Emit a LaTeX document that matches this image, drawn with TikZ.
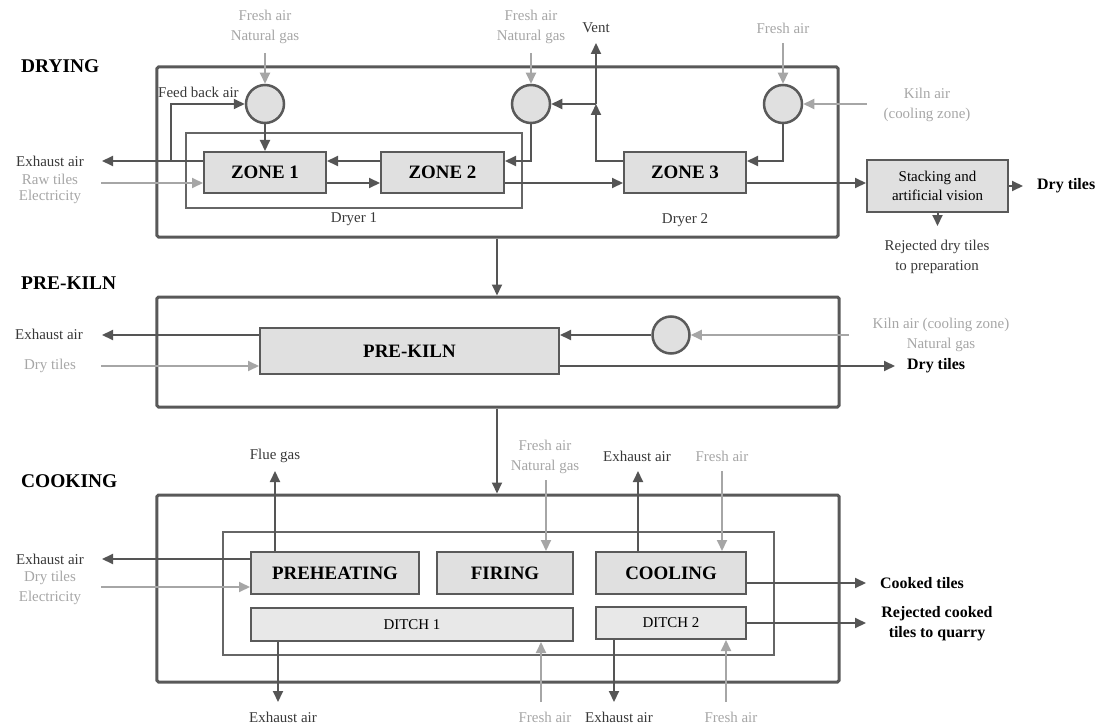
\documentclass[tikz,border=0pt]{standalone}
\usepackage{fontspec}
\setmainfont{Liberation Serif}
\usetikzlibrary{arrows.meta}
\definecolor{framec}{HTML}{595959}
\definecolor{innerc}{HTML}{666666}
\definecolor{boxc}{HTML}{5A5A5A}
\definecolor{zonefill}{HTML}{E0E0E0}
\definecolor{ditchfill}{HTML}{E8E8E8}
\definecolor{arrc}{HTML}{555555}
\definecolor{lightc}{HTML}{A6A6A6}
\definecolor{darktext}{HTML}{383838}
\begin{document}
\begin{tikzpicture}[x=1bp,y=-1bp,
  frame/.style={draw=framec,line width=3bp,rounded corners=1.5bp,inner sep=0pt},
  innerbox/.style={draw=innerc,line width=2bp,inner sep=0pt},
  zone/.style={draw=boxc,line width=2bp,fill=zonefill,inner sep=0pt,
    font=\fontsize{19}{22}\selectfont\bfseries},
  ditch/.style={draw=boxc,line width=2bp,fill=ditchfill,inner sep=0pt,
    font=\fontsize{15}{18}\selectfont,text=black},
  mixer/.style={circle,draw=boxc,line width=2.5bp,fill=zonefill,inner sep=0pt,minimum size=38bp},
  darr/.style={draw=arrc,line width=2bp,-{Triangle[length=11bp,width=10bp]}},
  larr/.style={draw=lightc,line width=2bp,-{Triangle[length=11bp,width=10bp]}},
  dline/.style={draw=arrc,line width=2bp},
  lab/.style={font=\fontsize{15}{20}\selectfont,text=darktext,align=center,inner sep=0pt},
  llab/.style={font=\fontsize{15}{20}\selectfont,text=lightc,align=center,inner sep=0pt},
  blab/.style={font=\fontsize{16}{20}\selectfont\bfseries,text=black,align=center,inner sep=0pt},
  sect/.style={font=\fontsize{19.5}{22}\selectfont\bfseries,text=black,anchor=west,inner sep=0pt}]
\useasboundingbox (0,0) rectangle (1103,727);

% ---------------- section titles
\node[sect] (tDry) at (21,66) {DRYING};
\node[sect] (tPre) at (21,283) {PRE-KILN};
\node[sect] (tCook) at (21,481) {COOKING};

% ---------------- drying
\node[frame,minimum width=681bp,minimum height=170bp] (dryF) at (497.5,152) {};
\node[innerbox,minimum width=336bp,minimum height=75bp] (dryer1) at (354,170.5) {};
\node[zone,minimum width=122bp,minimum height=41bp] (z1) at (265,172.5) {ZONE 1};
\node[zone,minimum width=123bp,minimum height=41bp] (z2) at (442.5,172.5) {ZONE 2};
\node[zone,minimum width=122bp,minimum height=41bp] (z3) at (685,172.5) {ZONE 3};
\node[mixer] (m1) at (265,104) {};
\node[mixer] (m2) at (531,104) {};
\node[mixer] (m3) at (783,104) {};
\node[zone,minimum width=141bp,minimum height=52bp,font=\fontsize{15}{19}\selectfont,align=center]
  (stack) at (937.5,186) {Stacking and\\artificial vision};

\node[lab] (dryer1L) at (354,219) {Dryer 1};
\node[lab] (dryer2L) at (685,220) {Dryer 2};
\node[llab] (faL1) at (265,27) {Fresh air\\Natural gas};
\node[llab] (faL2) at (531,27) {Fresh air\\Natural gas};
\node[lab] (ventL) at (596,28) {Vent};
\node[llab] (faL3) at (783,28) {Fresh air};
\node[llab] (kilnL) at (927,105) {Kiln air\\(cooling zone)};
\node[lab,anchor=west] (fbL) at (158,92) {Feed back air};
\node[lab] (exhL1) at (50,161) {Exhaust air};
\node[llab] (rawL) at (50,179) {Raw tiles};
\node[llab] (elecL1) at (50,197) {Electricity};
\node[blab,anchor=west] (dryOutL) at (1037,186) {Dry tiles};
\node[lab] (rejL) at (937,257) {Rejected dry tiles\\to preparation};

\coordinate (exhT1) at (102,161);
\coordinate (rawS) at (101,183);
\coordinate (fbJ) at (171,161);
\coordinate (faS1) at (265,53);
\coordinate (faS2) at (531,53);
\coordinate (ventJ) at (596,104);
\coordinate (ventT) at (596,43);
\coordinate (faS3) at (783,43);
\coordinate (kilnS) at (867,104);
\coordinate (dryOutT) at (1023,186);
\coordinate (rejT) at (937.5,226);

\draw[darr] (z1.west |- 0,161) -- (exhT1);
\draw[darr] (fbJ) |- (m1.west);
\draw[larr] (rawS) -- (z1.west |- rawS);
\draw[larr] (faS1) -- (m1.north);
\draw[darr] (m1.south) -- (z1.north);
\draw[darr] (z2.west |- 0,161) -- (z1.east |- 0,161);
\draw[darr] (z1.east |- 0,183) -- (z2.west |- 0,183);
\draw[larr] (faS2) -- (m2.north);
\draw[darr] (m2.south) |- (z2.east |- 0,161);
\draw[darr] (z3.west |- 0,161) -| (ventJ);
\draw[darr] (ventJ) -- (m2.east);
\draw[darr] (ventJ) -- (ventT);
\draw[darr] (z2.east |- 0,183) -- (z3.west |- 0,183);
\draw[larr] (faS3) -- (m3.north);
\draw[larr] (kilnS) -- (m3.east);
\draw[darr] (m3.south) |- (z3.east |- 0,161);
\draw[darr] (z3.east |- 0,183) -- (stack.west |- 0,183);
\draw[darr] (stack.east) -- (dryOutT);
\draw[darr] (stack.south) -- (rejT);

% ---------------- pre-kiln
\node[frame,minimum width=682bp,minimum height=110bp] (preF) at (498,352) {};
\node[zone,minimum width=299bp,minimum height=46bp] (prek) at (409.5,351) {PRE-KILN};
\node[mixer,minimum size=37bp] (m4) at (671,335) {};

\node[lab] (exhL2) at (49,334) {Exhaust air};
\node[llab] (dryInL) at (50,366) {Dry tiles};
\node[llab] (kiln2L) at (941,335) {Kiln air (cooling zone)\\Natural gas};
\node[blab,anchor=west] (preOutL) at (907,366) {Dry tiles};

\coordinate (xDown) at (497,0);
\coordinate (exhT2) at (102,335);
\coordinate (dryInS) at (101,366);
\coordinate (kiln2S) at (849,335);
\coordinate (preOutT) at (895,366);

\draw[darr] (dryF.south -| xDown) -- (preF.north -| xDown);
\draw[darr] (prek.west |- exhT2) -- (exhT2);
\draw[larr] (dryInS) -- (prek.west |- dryInS);
\draw[larr] (kiln2S) -- (m4.east);
\draw[darr] (m4.west) -- (prek.east |- m4.west);
\draw[darr] (prek.east |- preOutT) -- (preOutT);

% ---------------- cooking
\node[frame,minimum width=682bp,minimum height=187bp] (cookF) at (498,588.5) {};
\node[innerbox,minimum width=551bp,minimum height=123bp] (cookIn) at (498.5,593.5) {};
\node[zone,minimum width=168bp,minimum height=42bp] (preh) at (335,573) {PREHEATING};
\node[zone,minimum width=136bp,minimum height=42bp] (firing) at (505,573) {FIRING};
\node[zone,minimum width=150bp,minimum height=42bp] (cooling) at (671,573) {COOLING};
\node[ditch,minimum width=322bp,minimum height=33bp] (ditch1) at (412,624.5) {DITCH 1};
\node[ditch,minimum width=150bp,minimum height=32bp] (ditch2) at (671,623) {DITCH 2};

\node[lab] (flueL) at (275,456) {Flue gas};
\node[lab] (exhL3) at (50,559) {Exhaust air};
\node[llab] (dryIn2L) at (50,578) {Dry tiles};
\node[llab] (elecL2) at (50,598) {Electricity};
\node[llab] (faL4) at (545,456.5) {Fresh air\\Natural gas};
\node[lab] (exhL4) at (637,456) {Exhaust air};
\node[llab] (faL5) at (722,456) {Fresh air};
\node[blab,anchor=west] (cookedL) at (880,583) {Cooked tiles};
\node[blab] (rejCL) at (937,624) {Rejected cooked\\tiles to quarry};
\node[lab] (exhL5) at (283,717) {Exhaust air};
\node[llab] (faL6) at (545,717) {Fresh air};
\node[lab] (exhL6) at (619,717) {Exhaust air};
\node[llab] (faL7) at (731,717) {Fresh air};

\coordinate (flueT) at (275,471);
\coordinate (exhT3) at (102,559);
\coordinate (dryIn2S) at (101,587);
\coordinate (faS4) at (546,480);
\coordinate (exhT4) at (638,471);
\coordinate (faS5) at (722,471);
\coordinate (cookedT) at (866,583);
\coordinate (rejCT) at (866,623);
\coordinate (exhT5) at (278,702);
\coordinate (faS6) at (541,702);
\coordinate (exhT6) at (614,702);
\coordinate (faS7) at (726,702);

\draw[darr] (preF.south -| xDown) -- (cookF.north -| xDown);
\draw[darr] (preh.north -| flueT) -- (flueT);
\draw[darr] (preh.west |- exhT3) -- (exhT3);
\draw[larr] (dryIn2S) -- (preh.west |- dryIn2S);
\draw[larr] (faS4) -- (firing.north -| faS4);
\draw[darr] (cooling.north -| exhT4) -- (exhT4);
\draw[larr] (faS5) -- (cooling.north -| faS5);
\draw[darr] (cooling.east |- cookedT) -- (cookedT);
\draw[darr] (ditch2.east |- rejCT) -- (rejCT);
\draw[darr] (ditch1.south -| exhT5) -- (exhT5);
\draw[larr] (faS6) -- (ditch1.south -| faS6);
\draw[darr] (ditch2.south -| exhT6) -- (exhT6);
\draw[larr] (faS7) -- (ditch2.south -| faS7);
\end{tikzpicture}
\end{document}
